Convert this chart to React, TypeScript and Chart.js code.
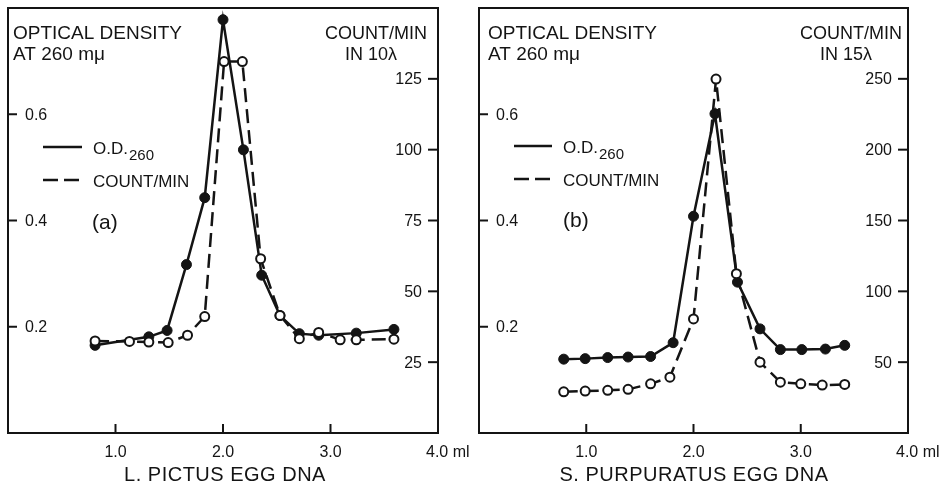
import React, { useEffect, useRef } from "react";
import { Chart, registerables } from "chart.js";

Chart.register(...registerables);

// ---------- DATA ----------
// Panel (a): L. pictus egg DNA
const aOdMl = [0.81, 1.31, 1.48, 1.66, 1.83, 2.0, 2.19, 2.36, 2.53, 2.71, 2.89, 3.24, 3.59];
const aOdVal = [0.165, 0.181, 0.193, 0.317, 0.443, 0.778, 0.533, 0.297, 0.221, 0.187, 0.184, 0.188, 0.195];
const aCpmMl = [0.81, 1.13, 1.31, 1.49, 1.67, 1.83, 2.01, 2.18, 2.35, 2.53, 2.71, 2.89, 3.09, 3.24, 3.59];
const aCpmVal = [32.5, 32.3, 32.1, 31.9, 34.5, 41.1, 131.1, 131.1, 61.5, 41.5, 33.3, 35.5, 32.9, 32.9, 33.1];

// Panel (b): S. purpuratus egg DNA
const bOdMl = [0.79, 0.99, 1.2, 1.39, 1.6, 1.81, 2.0, 2.2, 2.41, 2.62, 2.81, 3.01, 3.23, 3.41];
const bOdVal = [0.139, 0.14, 0.142, 0.143, 0.144, 0.17, 0.408, 0.601, 0.284, 0.196, 0.157, 0.157, 0.158, 0.165];
const bCpmMl = [0.79, 0.99, 1.2, 1.39, 1.6, 1.78, 2.0, 2.21, 2.4, 2.62, 2.81, 3.0, 3.2, 3.41];
const bCpmVal = [29.1, 29.6, 30.1, 30.8, 34.7, 39.4, 80.5, 249.8, 112.5, 50, 35.9, 34.7, 33.8, 34.3];

// Ticks
const mlTicks = [1, 2, 3];
const mlTickLabels = ["1.0", "2.0", "3.0"];
const odTicks = [0.2, 0.4, 0.6];
const odTickLabels = ["0.2", "0.4", "0.6"];
const aCpmTicks = [25, 50, 75, 100, 125];
const bCpmTicks = [50, 100, 150, 200, 250];

// Text
const odTitle = ["OPTICAL DENSITY", "AT 260 m\u03bc"];
const aCpmTitle = ["COUNT/MIN", "IN 10\u03bb"];
const bCpmTitle = ["COUNT/MIN", "IN 15\u03bb"];
const lastMlLabel = "4.0 ml";
const legendOd = "O.D.";
const legendOdSub = "260";
const legendCpm = "COUNT/MIN";
const aTag = "(a)";
const bTag = "(b)";
const aXTitle = "L. PICTUS EGG DNA";
const bXTitle = "S. PURPURATUS EGG DNA";

const FONT = '"Liberation Sans", Arial, sans-serif';
const INK = "#141414";

type PanelProps = {
  width: number;
  left: number;
  pad: { left: number; right: number; top: number; bottom: number };
  odMl: number[];
  odVal: number[];
  cpmMl: number[];
  cpmVal: number[];
  cpmMax: number;
  cpmTicks: number[];
  cpmTitle: string[];
  tag: string;
  xTitle: string;
  lay: {
    odTitleX: number;
    cpmTitleRight: number;
    cpmLine2X: number;
    legLineX0: number;
    legLineX1: number;
    legTextX: number;
    legY1: number;
    legY2: number;
    tagX: number;
    tagY: number;
    xTitleCenter: number;
  };
};

function Panel(p: PanelProps) {
  const ref = useRef<HTMLCanvasElement | null>(null);
  useEffect(() => {
    const canvas = ref.current;
    if (!canvas) return;
    const decor = {
      id: "decor",
      afterDraw(chart: any) {
        const ctx = chart.ctx as any;
        const ca = chart.chartArea;
        const sx = chart.scales.x;
        const sy = chart.scales.y;
        const sy2 = chart.scales.y2;
        ctx.save();
        ctx.strokeStyle = INK;
        ctx.fillStyle = INK;
        ctx.lineWidth = 2;
        ctx.setLineDash([]);
        ctx.strokeRect(ca.left, ca.top, ca.right - ca.left, ca.bottom - ca.top);

        ctx.font = `16px ${FONT}`;
        ctx.textBaseline = "middle";
        // left OD ticks
        odTicks.forEach((v, i) => {
          const py = sy.getPixelForValue(v);
          ctx.beginPath();
          ctx.moveTo(ca.left, py);
          ctx.lineTo(ca.left + 9, py);
          ctx.stroke();
          ctx.textAlign = "left";
          ctx.fillText(odTickLabels[i], ca.left + 17, py + 1);
        });
        // right CPM ticks
        p.cpmTicks.forEach((v) => {
          const py = sy2.getPixelForValue(v);
          ctx.beginPath();
          ctx.moveTo(ca.right - 10, py);
          ctx.lineTo(ca.right, py);
          ctx.stroke();
          ctx.textAlign = "right";
          ctx.fillText(String(v), ca.right - 16, py + 1);
        });
        // x ticks
        ctx.textBaseline = "alphabetic";
        mlTicks.forEach((v, i) => {
          const px = sx.getPixelForValue(v);
          ctx.beginPath();
          ctx.moveTo(px, ca.bottom);
          ctx.lineTo(px, ca.bottom - 9);
          ctx.stroke();
          ctx.textAlign = "center";
          ctx.fillText(mlTickLabels[i], px, ca.bottom + 24);
        });
        ctx.textAlign = "left";
        ctx.fillText(lastMlLabel, sx.getPixelForValue(4) - 12, ca.bottom + 24);

        // axis titles
        ctx.font = `19px ${FONT}`;
        ctx.textAlign = "left";
        ctx.fillText(odTitle[0], p.lay.odTitleX, 39);
        ctx.fillText(odTitle[1], p.lay.odTitleX, 60);
        ctx.font = `18px ${FONT}`;
        ctx.textAlign = "right";
        ctx.fillText(p.cpmTitle[0], p.lay.cpmTitleRight, 39);
        ctx.textAlign = "left";
        ctx.fillText(p.cpmTitle[1], p.lay.cpmLine2X, 60);

        // x title
        ctx.font = `20px ${FONT}`;
        if ("letterSpacing" in ctx) ctx.letterSpacing = "0.5px";
        ctx.textAlign = "center";
        ctx.fillText(p.xTitle, p.lay.xTitleCenter, 481);
        if ("letterSpacing" in ctx) ctx.letterSpacing = "0px";

        // legend
        ctx.lineWidth = 2.5;
        ctx.beginPath();
        ctx.moveTo(p.lay.legLineX0, p.lay.legY1);
        ctx.lineTo(p.lay.legLineX1, p.lay.legY1);
        ctx.stroke();
        ctx.setLineDash([15, 6]);
        ctx.beginPath();
        ctx.moveTo(p.lay.legLineX0, p.lay.legY2);
        ctx.lineTo(p.lay.legLineX1, p.lay.legY2);
        ctx.stroke();
        ctx.setLineDash([]);
        ctx.font = `17px ${FONT}`;
        ctx.textAlign = "left";
        ctx.textBaseline = "middle";
        ctx.fillText(legendOd, p.lay.legTextX, p.lay.legY1 + 2);
        const w = ctx.measureText(legendOd).width;
        ctx.font = `15px ${FONT}`;
        ctx.fillText(legendOdSub, p.lay.legTextX + w + 1, p.lay.legY1 + 9);
        ctx.font = `17px ${FONT}`;
        ctx.fillText(legendCpm, p.lay.legTextX, p.lay.legY2 + 2);

        // panel tag
        ctx.font = `21px ${FONT}`;
        ctx.fillText(p.tag, p.lay.tagX, p.lay.tagY);
        ctx.restore();
      },
    };

    const chart = new Chart(canvas, {
      type: "line",
      data: {
        datasets: [
          {
            label: "O.D.260",
            data: p.odMl.map((x, i) => ({ x, y: p.odVal[i] })),
            yAxisID: "y",
            borderColor: INK,
            backgroundColor: INK,
            borderWidth: 2.5,
            pointRadius: 5,
            pointBackgroundColor: INK,
            pointBorderColor: INK,
            pointBorderWidth: 1,
            tension: 0,
            order: 2,
          },
          {
            label: "COUNT/MIN",
            data: p.cpmMl.map((x, i) => ({ x, y: p.cpmVal[i] })),
            yAxisID: "y2",
            borderColor: INK,
            backgroundColor: "#fff",
            borderWidth: 2.5,
            borderDash: [14, 7],
            pointRadius: 4.5,
            pointBackgroundColor: "#fff",
            pointBorderColor: INK,
            pointBorderWidth: 2,
            tension: 0,
            order: 1,
          },
        ],
      },
      options: {
        responsive: false,
        animation: false,
        maintainAspectRatio: false,
        layout: { padding: p.pad },
        plugins: { legend: { display: false }, tooltip: { enabled: false }, title: { display: false } },
        scales: {
          x: { type: "linear", min: 0, max: 4, display: false },
          y: { type: "linear", min: 0, max: 0.8, display: false },
          y2: { type: "linear", min: 0, max: p.cpmMax, display: false, position: "right" },
        },
      },
      plugins: [decor],
    } as any);
    return () => chart.destroy();
  }, []);
  return (
    <canvas
      ref={ref}
      width={p.width}
      height={486}
      style={{ position: "absolute", left: p.left, top: 0, width: p.width, height: 486 }}
    />
  );
}

export default function App() {
  return (
    <div style={{ position: "absolute", left: 0, top: 0, width: 951, height: 486, background: "#fff", overflow: "hidden" }}>
      <Panel
        width={470}
        left={0}
        pad={{ left: 8, right: 32, top: 8, bottom: 53 }}
        odMl={aOdMl}
        odVal={aOdVal}
        cpmMl={aCpmMl}
        cpmVal={aCpmVal}
        cpmMax={150}
        cpmTicks={aCpmTicks}
        cpmTitle={aCpmTitle}
        tag={aTag}
        xTitle={aXTitle}
        lay={{
          odTitleX: 13,
          cpmTitleRight: 427,
          cpmLine2X: 345,
          legLineX0: 43,
          legLineX1: 82,
          legTextX: 93,
          legY1: 147,
          legY2: 180,
          tagX: 92,
          tagY: 223,
          xTitleCenter: 225,
        }}
      />
      <Panel
        width={481}
        left={470}
        pad={{ left: 9, right: 43, top: 8, bottom: 53 }}
        odMl={bOdMl}
        odVal={bOdVal}
        cpmMl={bCpmMl}
        cpmVal={bCpmVal}
        cpmMax={300}
        cpmTicks={bCpmTicks}
        cpmTitle={bCpmTitle}
        tag={bTag}
        xTitle={bXTitle}
        lay={{
          odTitleX: 18,
          cpmTitleRight: 432,
          cpmLine2X: 350,
          legLineX0: 44,
          legLineX1: 82,
          legTextX: 93,
          legY1: 146,
          legY2: 179,
          tagX: 93,
          tagY: 221,
          xTitleCenter: 224,
        }}
      />
    </div>
  );
}
